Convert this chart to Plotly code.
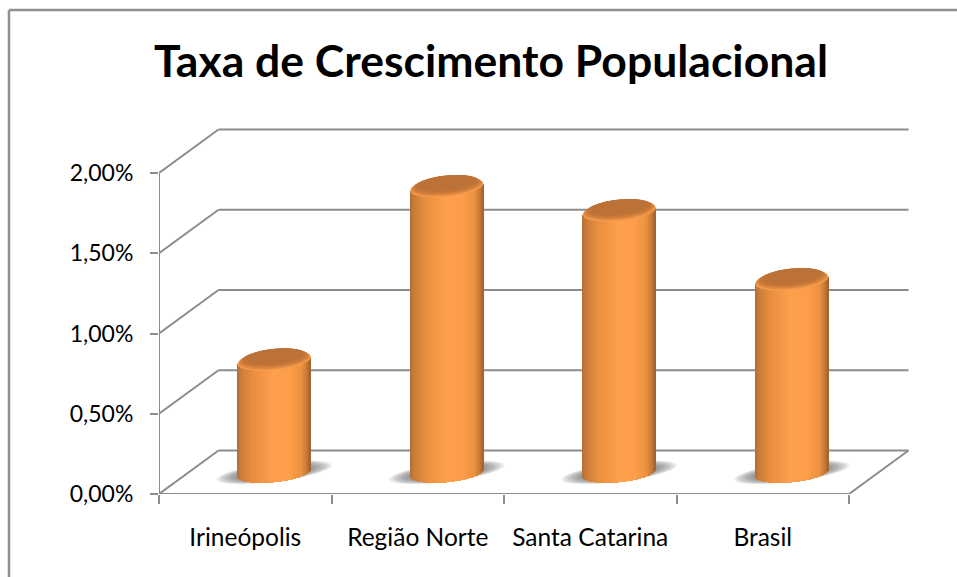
import math
import plotly.graph_objects as go

categories = ["Irineópolis", "Região Norte", "Santa Catarina", "Brasil"]
values = [0.70, 1.78, 1.63, 1.20]
y_ticks = [0, 0.5, 1.0, 1.5, 2.0]
y_labels = ["0,00%", "0,50%", "1,00%", "1,50%", "2,00%"]
title = "Taxa de Crescimento Populacional"

W, H = 957, 577
L, R, T, B = 159, 915, 124, 494
XS = 172.5   # px per category
YS = 160.5   # px per 1.00 %
DX, DY = 59.5 / XS, 43.5 / YS          # depth of the floor
CX, CY = 58 / XS / 2, DY * 0.483       # cylinders stand mid-depth
A, Bb, S = 36.5 / XS, 9.5 / YS, 3.5 / YS  # ellipse semi axes and tilt
GRID = "#8c8c8c"


def lerp(a, b, t):
    return tuple(a[i] + (b[i] - a[i]) * t for i in range(3))


STOPS = [(0.0, (176, 110, 52)), (0.05, (200, 124, 58)), (0.2, (232, 142, 64)),
         (0.5, (255, 160, 76)), (0.72, (254, 158, 74)), (0.88, (236, 146, 66)),
         (0.96, (196, 120, 54)), (1.0, (160, 98, 44))]


def grad(t):
    for (p0, c0), (p1, c1) in zip(STOPS, STOPS[1:]):
        if t <= p1:
            c = lerp(c0, c1, (t - p0) / (p1 - p0))
            return "rgb(%d,%d,%d)" % c
    return "rgb(160,98,44)"


def ellipse(cx, cy, a, b, s, n=48):
    pts = []
    for k in range(n):
        t = 2 * math.pi * k / n
        x = cx + a * math.cos(t)
        y = cy + b * math.sin(t) + s * math.cos(t)
        pts.append(("M" if k == 0 else "L") + f"{x:.4f},{y:.4f}")
    return " ".join(pts) + " Z"


centers = [i + 0.5 + CX for i in range(len(categories))]
fig = go.Figure()

shapes = []


def line(x0, y0, x1, y1, color=GRID, width=2, xref="x", yref="y"):
    shapes.append(dict(type="line", x0=x0, y0=y0, x1=x1, y1=y1, xref=xref, yref=yref,
                       layer="below", line=dict(color=color, width=width)))


# walls and floor
for v in y_ticks:
    line(0, v, DX, v + DY)
    line(DX, v + DY, len(categories) + DX, v + DY)
line(len(categories), 0, len(categories) + DX, DY)
line(0, 0, 0, max(y_ticks))
line(0, 0, len(categories), 0)

# soft shadows on the floor
for cx in centers:
    for k in range(14):
        f = 1 - k / 14
        shapes.append(dict(type="path", xref="x", yref="y", layer="below",
                           path=ellipse(cx, CY + 0.004, A * (1.58 * f + 0.8 * (1 - f)),
                                        Bb * (1.0 * f + 0.55 * (1 - f)), S * 2.0 * (f * 0.5 + 0.5)),
                           fillcolor="rgba(110,110,110,0.10)", line=dict(width=0)))

# cylinder body as narrow vertical strips
N = 73
sw = 2 * A / N
for k in range(N):
    u = (k + 0.5) / N
    uu = 2 * u - 1
    offs = -A + k * sw
    low = [CY + S * uu - Bb * math.sqrt(max(0, 1 - uu * uu))] * len(values)
    high = [CY + v + S * uu for v in values]
    fig.add_trace(go.Bar(x=centers, base=low, y=[h - l for h, l in zip(high, low)],
                         width=sw * 1.6, offset=offs, marker=dict(color=grad(u), line=dict(width=0)),
                         hoverinfo="skip", showlegend=False))

# top caps: light rim fading to the darker upper face
CAP = [(0.0, 1.0, (246, 158, 80)), (0.004, 0.985, (236, 148, 72)), (0.008, 0.965, (226, 138, 66)),
       (0.012, 0.94, (216, 130, 62)), (0.016, 0.91, (206, 124, 58)), (0.02, 0.88, (198, 120, 56)),
       (0.024, 0.84, (192, 116, 54)), (0.028, 0.78, (188, 114, 54))]
for v, cx in zip(values, centers):
    top = CY + v
    for dy, sc, col in CAP:
        shapes.append(dict(type="path", xref="x", yref="y", layer="above",
                           path=ellipse(cx, top + dy, A * sc, Bb * sc, S * sc),
                           fillcolor="rgb(%d,%d,%d)" % col, line=dict(width=0)))

# chart frame ("paper" fractions run along the plot area)
fx = (9 - L) / (R - L)
fy = (B - 10) / (B - T)
shapes.append(dict(type="line", xref="paper", yref="paper", x0=fx, x1=fx, y0=(B - H) / (B - T), y1=fy,
                   layer="below", line=dict(color="#8f8f8f", width=2.5)))
shapes.append(dict(type="line", xref="paper", yref="paper", x0=fx, x1=(W - L) / (R - L), y0=fy, y1=fy,
                   layer="below", line=dict(color="#8f8f8f", width=2.5)))

# invisible trace carrying the second x axis for the tick marks
fig.add_trace(go.Scatter(x=[0, len(categories)], y=[0, 0], xaxis="x2", mode="lines",
                         line=dict(width=0), hoverinfo="skip", showlegend=False))

xr = [0, (R - L) / XS]
yr = [0, (B - T) / YS]
fig.update_layout(
    width=W, height=H, autosize=False,
    margin=dict(l=L, r=W - R, t=T, b=H - B, pad=0),
    paper_bgcolor="white", plot_bgcolor="white",
    barmode="overlay", bargap=0,
    font=dict(family="Lato, sans-serif", color="black"),
    shapes=shapes,
    title=dict(text=f"<b>{title}</b>", x=491 / W, xanchor="center", y=1 - 61 / H, yanchor="middle",
               font=dict(family="Lato, sans-serif", size=44.5, color="black")),
    xaxis=dict(range=xr, tickmode="array", tickvals=[i + 0.5 for i in range(len(categories))],
               ticktext=categories, ticks="outside", ticklen=22, tickcolor="rgba(0,0,0,0)",
               tickfont=dict(size=24.5), showgrid=False, zeroline=False, showline=False),
    xaxis2=dict(range=xr, overlaying="x", side="bottom", tickmode="array",
                tickvals=list(range(len(categories) + 1)), ticktext=[""] * (len(categories) + 1),
                ticks="outside", ticklen=9, tickwidth=2, tickcolor=GRID,
                showgrid=False, zeroline=False, showline=False),
    yaxis=dict(range=yr, tickmode="array", tickvals=y_ticks, ticktext=y_labels,
               ticks="outside", ticklen=8, tickwidth=2, tickcolor=GRID, ticklabelstandoff=12,
               tickfont=dict(size=23), showgrid=False, zeroline=False, showline=False),
)
fig.write_html("out.html", config={"displayModeBar": False},
               post_script="document.body.style.margin='0';document.body.style.overflow='hidden';")
